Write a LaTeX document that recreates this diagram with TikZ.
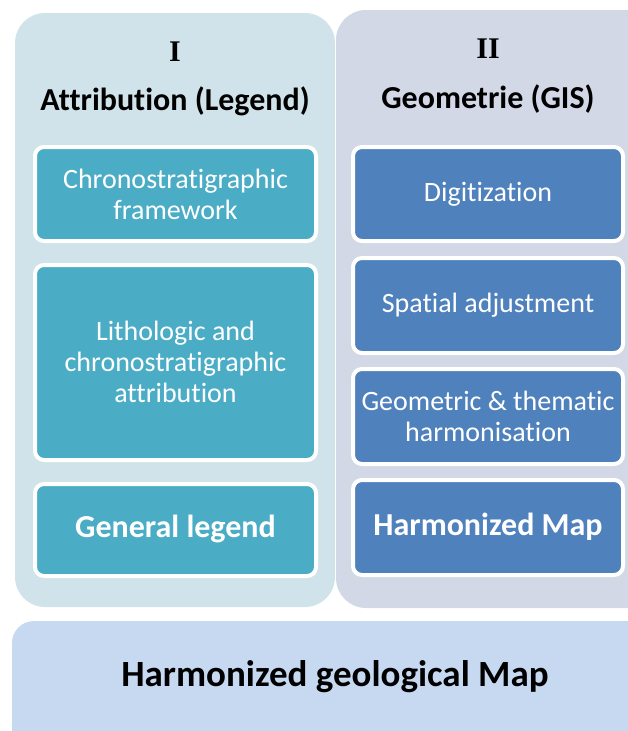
\documentclass[tikz,border=0pt]{standalone}
\usepackage{fontspec}
\setmainfont[Ligatures=NoCommon]{Carlito}
\newfontfamily\romanfont{Liberation Serif}
\definecolor{panelA}{HTML}{D1E3EA}
\definecolor{panelB}{HTML}{D2D8E6}
\definecolor{bottomC}{HTML}{C6D9F0}
\definecolor{tealC}{HTML}{4BACC6}
\definecolor{blueC}{HTML}{4F81BD}
\tikzset{
  panel/.style={rounded corners=30pt, draw=none},
  boxA/.style={draw=white, line width=4pt, fill=tealC, rounded corners=9pt},
  boxB/.style={draw=white, line width=4pt, fill=blueC, rounded corners=9pt},
  wtext/.style={text=white, align=center, font=\fontsize{28}{31}\selectfont},
  wbold/.style={text=white, align=center, font=\fontsize{32}{36}\selectfont\bfseries},
  ttl/.style={text=black, align=center, font=\fontsize{32}{36}\selectfont\bfseries},
  roman/.style={text=black, font=\romanfont\fontsize{30}{32}\selectfont\bfseries}
}
\begin{document}
\begin{tikzpicture}[x=1pt,y=-1pt]
\useasboundingbox (0,0) rectangle (627,731);
% panels
\fill[panelA, panel] (15,13) rectangle (335,607);
\fill[panelB, panel] (336,10) rectangle (660,608);
\fill[bottomC, rounded corners=22pt] (12,621) rectangle (660,770);
% titles
\node[roman] (nI) at (175,52) {I};
\node[ttl] (tA) at (175,101) {Attribution (Legend)};
\node[roman] (nII) at (488,49) {II};
\node[ttl] (tB) at (488,99) {Geometrie (GIS)};
% left boxes
\draw[boxA] (35,147) rectangle (316,241);
\node[wtext] (a1) at (175.5,194) {Chronostratigraphic\\framework};
\draw[boxA] (35,265) rectangle (316,460);
\node[wtext] (a2) at (175.5,362) {Lithologic and\\chronostratigraphic\\attribution};
\draw[boxA] (35,484) rectangle (316,576);
\node[wbold] (a3) at (175.5,529) {General legend};
% right boxes
\draw[boxB] (353,147) rectangle (623,241);
\node[wtext] (b1) at (488,194) {Digitization};
\draw[boxB] (353,258) rectangle (623,353);
\node[wtext] (b2) at (488,305) {Spatial adjustment};
\draw[boxB] (353,369) rectangle (623,464);
\node[wtext] (b3) at (488,416) {Geometric \& thematic\\harmonisation};
\draw[boxB] (353,480) rectangle (623,575);
\node[wbold] (b4) at (488,527) {Harmonized Map};
% bottom
\node[text=black, font=\fontsize{37}{42}\selectfont\bfseries] (hm) at (335,677) {Harmonized geological Map};
\end{tikzpicture}
\end{document}
